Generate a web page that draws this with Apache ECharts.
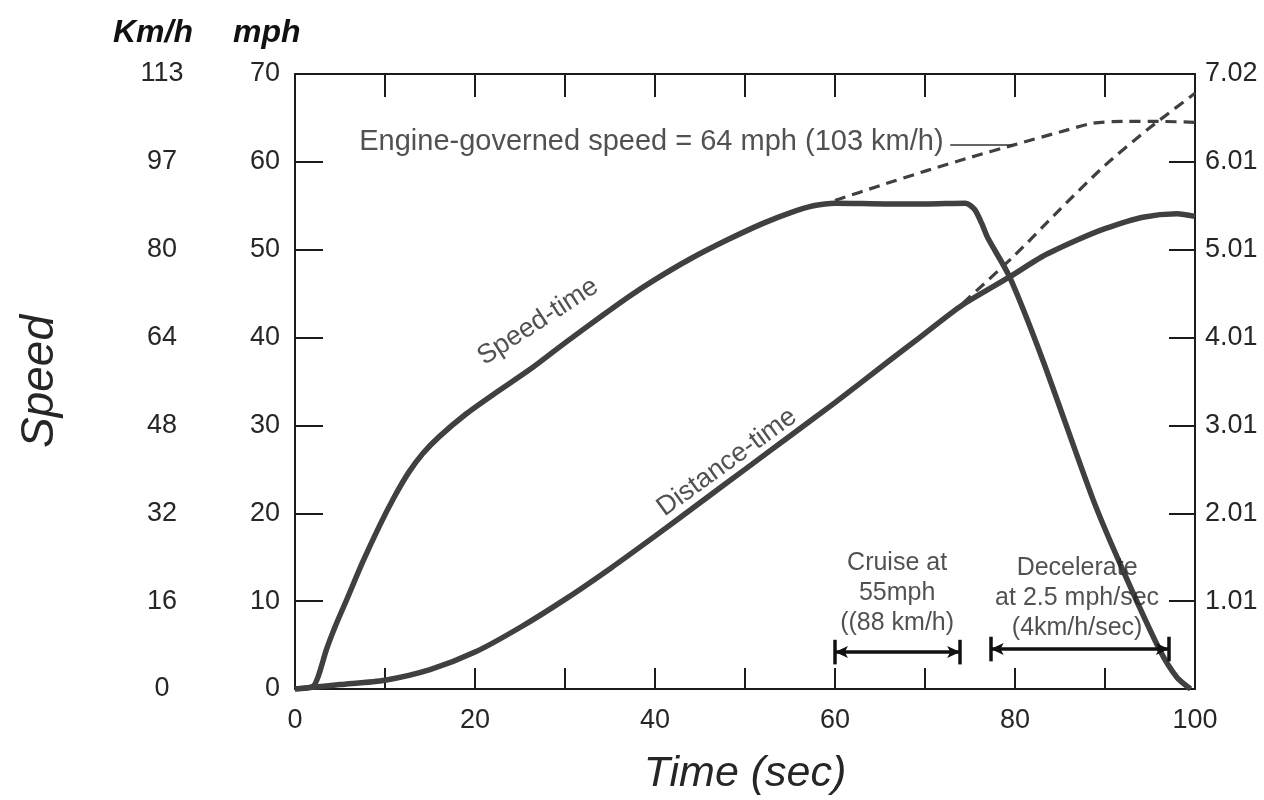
<!DOCTYPE html>
<html><head><meta charset="utf-8">
<script src="https://cdn.jsdelivr.net/npm/echarts@6/dist/echarts.min.js"></script>
<style>html,body{margin:0;padding:0;background:#fff}#c{width:1264px;height:800px}</style>
</head><body><div id="c"></div>
<script>
// ---- data ----
const speedTime = [0, 2, 2.6, 3.5, 4.5, 5.8, 7.5, 9.4, 11, 12.6, 14.2, 16, 19, 22, 26, 30, 34, 37, 40, 44, 48, 52, 55, 57.6, 60, 66, 70, 74.5, 75.5, 76.3, 77, 79.4, 83.1, 88.7, 92, 96.1, 98, 99.5];
const speedMph  = [0, 0.3, 1.5, 4.5, 7.2, 10.3, 14.4, 18.6, 21.8, 24.6, 26.8, 28.7, 31.3, 33.5, 36.3, 39.4, 42.4, 44.6, 46.6, 49.0, 51.1, 53.0, 54.2, 55.0, 55.3, 55.2, 55.2, 55.3, 54.6, 53, 51.3, 46.9, 37.4, 21.5, 13.5, 4.4, 1.3, 0];

const distTime = [0, 2, 5, 10, 15, 20, 25, 30, 35, 40, 45, 50, 55, 60, 65.7, 69.4, 74, 79.4, 83, 86.9, 90, 94.2, 98, 100];
const distVal  = [0, 0.2, 0.5, 1.0, 2.2, 4.2, 7.0, 10.2, 13.7, 17.4, 21.2, 25.0, 28.8, 32.6, 37.1, 40, 43.6, 46.9, 49.2, 51.1, 52.4, 53.7, 54.1, 53.8];

const governedTime = [60, 65, 70.2, 75, 79.8, 85, 88.7, 92, 96, 100];
const governedMph  = [55.6, 57.3, 59.0, 60.5, 61.9, 63.4, 64.4, 64.6, 64.6, 64.5];

const projTime = [74.2, 80, 85, 90, 95, 100];
const projVal  = [43.9, 49.4, 54.6, 59.6, 63.9, 67.8];

const xTickLabels   = ['0', '', '20', '', '40', '', '60', '', '80', '', '100'];
const mphLabels     = ['0', '10', '20', '30', '40', '50', '60', '70'];
const kmhLabels     = ['0', '16', '32', '48', '64', '80', '97', '113'];
const rightLabels   = ['', '1.01', '2.01', '3.01', '4.01', '5.01', '6.01', '7.02'];

const noteTexts = ['Engine-governed speed = 64 mph (103 km/h)', 'Speed-time', 'Distance-time',
                   'Cruise at\n55mph\n((88 km/h)', 'Decelerate\nat 2.5 mph/sec\n(4km/h/sec)'];
const noteX = [39.6, 27, 48, 66.9, 86.9];
const noteY = [62.3, 41.8, 25.8, 10.9, 10.35];
const noteRotate = [0, 33, 36, 0, 0];

const cruiseSpan = [60, 73.9];
const decelSpan  = [77.3, 97.1];
const spanLevel  = [4.2, 4.55];
const leaderSpan = [72.8, 79.8];
const leaderLevel = 61.9;

// ---- chart ----
const FONT = "'Liberation Sans', Arial, Helvetica, sans-serif";
const INK = '#404040';
const AX = '#1c1c1c';
const TXT = '#262626';
const pairs = (xs, ys) => xs.map((x, i) => [x, ys[i]]);

const chart = echarts.init(document.getElementById('c'), null, {renderer: 'canvas'});

const axisLineStyle = {color: AX, width: 2};
const titleStyle = {fontFamily: FONT, fontSize: 32, fontWeight: 'bold', fontStyle: 'italic', color: '#111'};

function spanMark(span, lvl) {
  return [
    [{coord: [span[0], lvl], symbol: 'arrow'}, {coord: [span[1], lvl], symbol: 'arrow'}],
    [{coord: [span[0], lvl - 1.4], symbol: 'none'}, {coord: [span[0], lvl + 1.4], symbol: 'none'}],
    [{coord: [span[1], lvl - 1.4], symbol: 'none'}, {coord: [span[1], lvl + 1.4], symbol: 'none'}]
  ];
}

const markData = [].concat(
  spanMark(cruiseSpan, spanLevel[0]),
  spanMark(decelSpan, spanLevel[1]),
  [[{coord: [leaderSpan[0], leaderLevel], symbol: 'none', lineStyle: {width: 1.5, color: '#333'}},
    {coord: [leaderSpan[1], leaderLevel], symbol: 'none'}]]
);

const option = {
  animation: false,
  backgroundColor: '#ffffff',
  title: [
    {text: 'Km/h', left: 108, top: 12, textStyle: titleStyle},
    {text: 'mph', left: 228, top: 12, textStyle: titleStyle}
  ],
  grid: {left: 295, right: 69, top: 74, bottom: 111, containLabel: false, outerBoundsMode: 'none'},
  xAxis: [
    {
      type: 'value', min: 0, max: 100, interval: 10, position: 'bottom',
      name: 'Time (sec)', nameLocation: 'middle', nameGap: 64,
      nameTextStyle: {fontFamily: FONT, fontSize: 43, fontStyle: 'italic', color: TXT},
      axisLine: {show: true, onZero: false, lineStyle: axisLineStyle},
      axisTick: {show: true, inside: true, length: 21, lineStyle: axisLineStyle},
      axisLabel: {formatter: v => xTickLabels[Math.round(v / 10)], fontFamily: FONT, fontSize: 27, color: TXT, margin: 18},
      splitLine: {show: false}
    },
    {
      type: 'value', min: 0, max: 100, interval: 10, position: 'top',
      axisLine: {show: true, onZero: false, lineStyle: axisLineStyle},
      axisTick: {show: true, inside: true, length: 23, lineStyle: axisLineStyle},
      axisLabel: {show: false}, splitLine: {show: false}
    }
  ],
  yAxis: [
    {
      type: 'value', min: 0, max: 70, interval: 10, position: 'left',
      axisLine: {show: true, onZero: false, lineStyle: axisLineStyle},
      axisTick: {show: true, inside: true, length: 28, lineStyle: axisLineStyle},
      axisLabel: {formatter: v => mphLabels[Math.round(v / 10)], fontFamily: FONT, fontSize: 27, color: TXT, margin: 15},
      splitLine: {show: false}
    },
    {
      type: 'value', min: 0, max: 70, interval: 10, position: 'right',
      axisLine: {show: true, onZero: false, lineStyle: axisLineStyle},
      axisTick: {show: true, inside: true, length: 26, lineStyle: axisLineStyle},
      axisLabel: {formatter: v => rightLabels[Math.round(v / 10)], fontFamily: FONT, fontSize: 27, color: TXT, margin: 10},
      splitLine: {show: false}
    },
    {
      type: 'value', min: 0, max: 70, interval: 10, position: 'left', offset: 100,
      axisLine: {show: false}, axisTick: {show: false},
      axisLabel: {formatter: v => kmhLabels[Math.round(v / 10)], fontFamily: FONT, fontSize: 27, color: TXT, margin: 33, align: 'center'},
      splitLine: {show: false},
      name: 'Speed', nameLocation: 'middle', nameGap: 132, nameRotate: 90,
      nameTextStyle: {fontFamily: FONT, fontSize: 46, fontStyle: 'italic', color: TXT}
    }
  ],
  series: [
    {
      name: 'Speed-time', type: 'line', xAxisIndex: 0, yAxisIndex: 0,
      data: pairs(speedTime, speedMph), showSymbol: false, smooth: 0.25,
      lineStyle: {color: INK, width: 5.5}, z: 4
    },
    {
      name: 'Distance-time', type: 'line', xAxisIndex: 0, yAxisIndex: 1,
      data: pairs(distTime, distVal), showSymbol: false, smooth: 0.25,
      lineStyle: {color: INK, width: 5.5}, z: 4
    },
    {
      name: 'Engine-governed', type: 'line', xAxisIndex: 0, yAxisIndex: 0,
      data: pairs(governedTime, governedMph), showSymbol: false, smooth: 0.25,
      lineStyle: {color: INK, width: 3.2, type: [11, 7]}, z: 3
    },
    {
      name: 'Distance projection', type: 'line', xAxisIndex: 0, yAxisIndex: 1,
      data: pairs(projTime, projVal), showSymbol: false, smooth: 0.25,
      lineStyle: {color: INK, width: 3.2, type: [11, 7]}, z: 3
    },
    {
      name: 'notes', type: 'scatter', xAxisIndex: 0, yAxisIndex: 0, symbolSize: 0, z: 6,
      data: noteTexts.map((t, i) => ({
        name: t, value: [noteX[i], noteY[i]],
        label: {rotate: noteRotate[i], fontSize: i === 0 ? 29 : (i < 3 ? 27 : 25)}
      })),
      label: {show: true, position: 'inside', formatter: p => p.name, fontFamily: FONT, color: TXT, lineHeight: 30, align: 'center', verticalAlign: 'middle'},
      markLine: {
        silent: true, animation: false, symbolSize: [9, 13],
        label: {show: false},
        lineStyle: {color: '#111', width: 3.5, type: 'solid'},
        data: markData
      }
    }
  ]
};
chart.setOption(option);
</script>
</body></html>
